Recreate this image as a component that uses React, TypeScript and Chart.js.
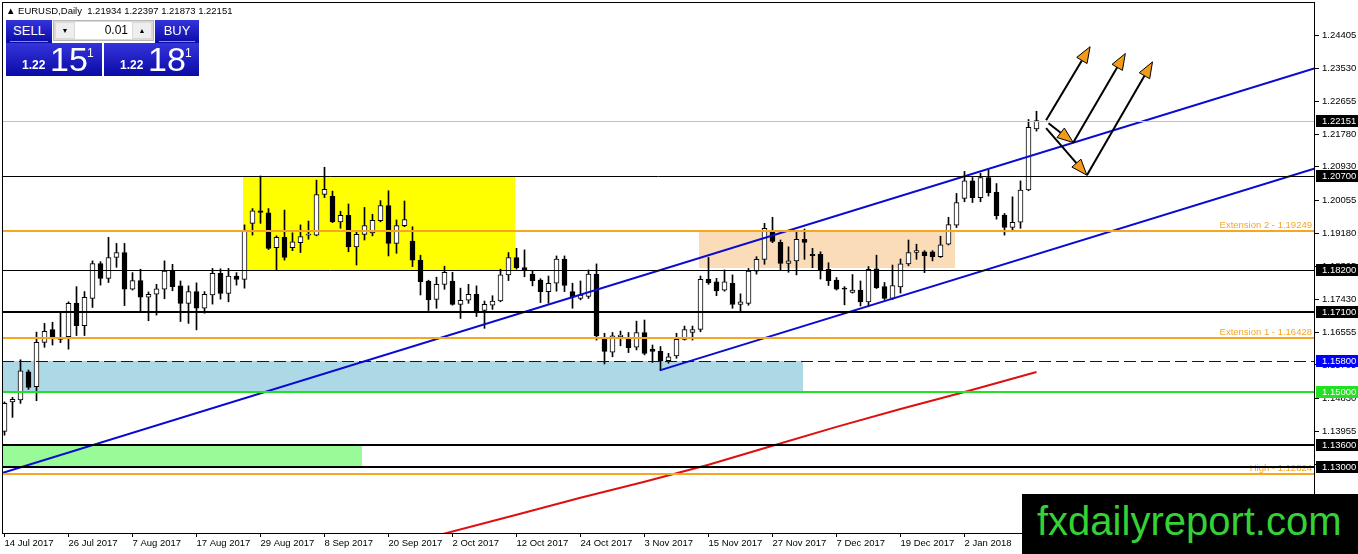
import { useEffect, useRef } from 'react'
import { Chart, registerables } from 'chart.js'
import type { Plugin } from 'chart.js'

Chart.register(...registerables)

// EURUSD daily, 14 Jul 2017 (bar 0) .. 15 Jan 2018 (bar 129)
const opens = [
  1.1395, 1.1473, 1.1478, 1.1552, 1.1513, 1.1630, 1.1664, 1.1641, 1.1645, 1.1733,
  1.1674, 1.1746, 1.1838, 1.1799, 1.1854, 1.1867, 1.1770, 1.1793, 1.1749, 1.1757,
  1.1770, 1.1818, 1.1779, 1.1733, 1.1764, 1.1720, 1.1755, 1.1812, 1.1759, 1.1805,
  1.1796, 1.1944, 1.1977, 1.1972, 1.1880, 1.1907, 1.1880, 1.1893, 1.1913, 1.1913,
  1.2020, 1.2016, 1.1948, 1.1965, 1.1882, 1.1915, 1.1919, 1.1951, 1.1991, 1.1891,
  1.1938, 1.1897, 1.1847, 1.1792, 1.1743, 1.1783, 1.1792, 1.1730, 1.1741, 1.1757,
  1.1714, 1.1728, 1.1739, 1.1808, 1.1854, 1.1827, 1.1810, 1.1794, 1.1764, 1.1786,
  1.1850, 1.1764, 1.1746, 1.1751, 1.1810, 1.1642, 1.1604, 1.1645, 1.1642, 1.1617,
  1.1656, 1.1612, 1.1606, 1.1582, 1.1594, 1.1638, 1.1656, 1.1664, 1.1796, 1.1790,
  1.1768, 1.1786, 1.1730, 1.1733, 1.1818, 1.1849, 1.1924, 1.1894, 1.1838, 1.1845,
  1.1902, 1.1862, 1.1862, 1.1823, 1.1794, 1.1773, 1.1762, 1.1768, 1.1737, 1.1824,
  1.1777, 1.1746, 1.1776, 1.1837, 1.1867, 1.1869, 1.1869, 1.1856, 1.1889, 1.1939,
  1.2010, 1.2056, 1.2012, 1.2065, 1.2026, 1.1966, 1.1933, 1.1947, 1.2032, 1.21934,
]
const highs = [
  1.1473, 1.1485, 1.1584, 1.1557, 1.1657, 1.1680, 1.1683, 1.1710, 1.1737, 1.1777,
  1.1764, 1.1845, 1.1843, 1.1907, 1.1891, 1.1891, 1.1814, 1.1823, 1.1763, 1.1783,
  1.1845, 1.1836, 1.1792, 1.1779, 1.1787, 1.1764, 1.1825, 1.1824, 1.1825, 1.1814,
  1.1940, 1.1983, 1.2069, 1.1983, 1.1911, 1.1979, 1.1919, 1.1940, 1.1950, 1.2058,
  1.2092, 1.2029, 1.1976, 1.1995, 1.1922, 1.1986, 1.1968, 1.2004, 1.2030, 1.1953,
  1.2003, 1.1935, 1.1860, 1.1794, 1.1802, 1.1831, 1.1815, 1.1773, 1.1783, 1.1779,
  1.1739, 1.1753, 1.1823, 1.1867, 1.1878, 1.1874, 1.1819, 1.1798, 1.1805, 1.1858,
  1.1858, 1.1786, 1.1792, 1.1821, 1.1837, 1.1654, 1.1656, 1.1660, 1.1656, 1.1686,
  1.1689, 1.1623, 1.1619, 1.1601, 1.1654, 1.1673, 1.1673, 1.1805, 1.1854, 1.1799,
  1.1821, 1.1808, 1.1758, 1.1825, 1.1856, 1.1944, 1.1960, 1.1900, 1.1882, 1.1924,
  1.1929, 1.1878, 1.1869, 1.1840, 1.1801, 1.1777, 1.1809, 1.1792, 1.1830, 1.1860,
  1.1788, 1.1834, 1.1850, 1.1900, 1.1889, 1.1872, 1.1872, 1.1910, 1.1960, 1.2023,
  1.2081, 1.2065, 1.2076, 1.2085, 1.2049, 1.1970, 1.2014, 1.2056, 1.2218, 1.22397,
]
const lows = [
  1.1385, 1.1432, 1.1469, 1.1506, 1.1476, 1.1617, 1.1623, 1.1629, 1.1612, 1.1648,
  1.1648, 1.1722, 1.1781, 1.1788, 1.1828, 1.1727, 1.1768, 1.1711, 1.1687, 1.1702,
  1.1745, 1.1766, 1.1685, 1.1680, 1.1663, 1.1707, 1.1731, 1.1744, 1.1737, 1.1781,
  1.1773, 1.1913, 1.1944, 1.1875, 1.1821, 1.1847, 1.1872, 1.1867, 1.1902, 1.1911,
  1.2012, 1.1946, 1.1931, 1.1869, 1.1834, 1.1900, 1.1911, 1.1948, 1.1858, 1.1865,
  1.1935, 1.1830, 1.1755, 1.1714, 1.1720, 1.1770, 1.1728, 1.1693, 1.1733, 1.1698,
  1.1667, 1.1717, 1.1737, 1.1793, 1.1823, 1.1803, 1.1779, 1.1735, 1.1733, 1.1765,
  1.1764, 1.1720, 1.1742, 1.1746, 1.1636, 1.1573, 1.1592, 1.1621, 1.1603, 1.1610,
  1.1597, 1.1577, 1.1557, 1.1575, 1.1588, 1.1636, 1.1636, 1.1658, 1.1783, 1.1753,
  1.1765, 1.1720, 1.1711, 1.1728, 1.1810, 1.1836, 1.1893, 1.1821, 1.1815, 1.1808,
  1.1849, 1.1827, 1.1797, 1.1780, 1.1768, 1.1729, 1.1760, 1.1726, 1.1724, 1.1772,
  1.1743, 1.1743, 1.1760, 1.1832, 1.1849, 1.1814, 1.1845, 1.1854, 1.1887, 1.1933,
  1.2001, 1.1999, 1.2001, 1.2016, 1.1955, 1.1913, 1.1922, 1.1931, 1.2030, 1.21873,
]
const closes = [
  1.1469, 1.1480, 1.1555, 1.1511, 1.1630, 1.1659, 1.1641, 1.1638, 1.1733, 1.1674,
  1.1749, 1.1838, 1.1799, 1.1854, 1.1867, 1.1770, 1.1793, 1.1749, 1.1757, 1.1771,
  1.1818, 1.1777, 1.1733, 1.1764, 1.1720, 1.1757, 1.1812, 1.1759, 1.1805, 1.1796,
  1.1924, 1.1977, 1.1973, 1.1878, 1.1907, 1.1854, 1.1895, 1.1909, 1.1916, 1.2020,
  1.2034, 1.1948, 1.1965, 1.1882, 1.1915, 1.1938, 1.1952, 1.1991, 1.1891, 1.1938,
  1.1954, 1.1847, 1.1790, 1.1742, 1.1783, 1.1815, 1.1730, 1.1741, 1.1757, 1.1711,
  1.1730, 1.1739, 1.1808, 1.1854, 1.1827, 1.1821, 1.1793, 1.1764, 1.1786, 1.1850,
  1.1780, 1.1749, 1.1755, 1.1810, 1.1647, 1.1606, 1.1647, 1.1649, 1.1616, 1.1656,
  1.1601, 1.1606, 1.1581, 1.1592, 1.1638, 1.1664, 1.1664, 1.1796, 1.1787, 1.1766,
  1.1790, 1.1730, 1.1737, 1.1818, 1.1849, 1.1931, 1.1896, 1.1838, 1.1845, 1.1902,
  1.1894, 1.1859, 1.1821, 1.1793, 1.1770, 1.1770, 1.1768, 1.1737, 1.1823, 1.1774,
  1.1746, 1.1780, 1.1837, 1.1867, 1.1872, 1.1859, 1.1856, 1.1887, 1.1941, 1.1999,
  1.2056, 1.2012, 1.2065, 1.2025, 1.1964, 1.1933, 1.1947, 1.2032, 1.2197, 1.22151,
]

const dateTickBars = [0, 8, 16, 24, 32, 40, 48, 56, 64, 72, 80, 88, 96, 104, 112, 120]
const dateLabels = [
  '14 Jul 2017', '26 Jul 2017', '7 Aug 2017', '17 Aug 2017', '29 Aug 2017', '8 Sep 2017',
  '20 Sep 2017', '2 Oct 2017', '12 Oct 2017', '24 Oct 2017', '3 Nov 2017', '15 Nov 2017',
  '27 Nov 2017', '7 Dec 2017', '19 Dec 2017', '2 Jan 2018',
]
const priceTicks = [
  1.24405, 1.2353, 1.22655, 1.2178, 1.2093, 1.20055, 1.1918, 1.18305,
  1.1743, 1.16555, 1.15705, 1.1483, 1.13955, 1.1308, 1.12205,
]

// moving average
const maBars = [54, 64, 72, 80, 88, 96, 104, 112, 120, 129]
const maValues = [1.1120, 1.1175, 1.1220, 1.1262, 1.1307, 1.1357, 1.1407, 1.1454, 1.1499, 1.1552]

// channel lines: [bar, price] end points
const channelUpper = [[-0.3, 1.12855], [163.8, 1.2353]]
const channelLower = [[81.9, 1.1556], [163.8, 1.2089]]

const bidPrice = 1.22151
const thinLevels = [1.207, 1.182]
const thickLevels = [1.171, 1.136, 1.13]
const dashedLevel = 1.158
const greenLevel = 1.15
const fibLevels = [1.19249, 1.16428, 1.12824]
const fibNames = ['Extension 2 - 1.19249', 'Extension 1 - 1.16428', 'High - 1.12824']

// zones: [fromBar, toBar, top, bottom]
const yellowZone = [29.8, 63.8, 1.207, 1.182]
const peachZone = [86.8, 118.8, 1.1925, 1.1825]
const blueZone = [-1, 99.8, 1.158, 1.15]
const greenZone = [-1, 44.7, 1.136, 1.13]

// arrows: [fromBar, fromPrice, toBar, toPrice]
const arrowSegments = [
  [130.2, 1.2216, 135.7, 1.2410],
  [130.5, 1.2208, 133.6, 1.2157],
  [133.6, 1.2157, 140.1, 1.2392],
  [130.2, 1.2195, 135.3, 1.2071],
  [135.3, 1.2071, 143.5, 1.2370],
]

const FONT = '"Liberation Sans", Arial, sans-serif'

const annotations: Plugin<'bar'> = {
  id: 'annotations',
  beforeDatasetsDraw(chart) {
    const { ctx, chartArea: a, scales } = chart
    const x = scales.x
    const y = scales.y
    ctx.save()
    ctx.beginPath()
    ctx.rect(a.left, a.top, a.width, a.height)
    ctx.clip()
    const zone = (z: number[], color: string) => {
      const x0 = Math.round(x.getPixelForValue(z[0]))
      const x1 = Math.round(x.getPixelForValue(z[1]))
      const y0 = Math.round(y.getPixelForValue(z[2]))
      const y1 = Math.round(y.getPixelForValue(z[3]))
      ctx.fillStyle = color
      ctx.fillRect(x0, y0, x1 - x0, y1 - y0)
    }
    zone(greenZone, '#98fb98')
    zone(blueZone, '#add8e6')
    zone(yellowZone, '#ffff00')
    zone(peachZone, '#fbdcb8')
    ctx.restore()
  },
  afterDatasetsDraw(chart) {
    const { ctx, chartArea: a, scales } = chart
    const x = scales.x
    const y = scales.y
    ctx.save()
    ctx.beginPath()
    ctx.rect(a.left, a.top, a.width, a.height)
    ctx.clip()
    const hline = (v: number, color: string, width: number, dash: number[] = []) => {
      const raw = Math.round(y.getPixelForValue(v))
      const py = width % 2 ? raw + 0.5 : raw
      ctx.strokeStyle = color
      ctx.lineWidth = width
      ctx.setLineDash(dash)
      ctx.beginPath()
      ctx.moveTo(a.left, py)
      ctx.lineTo(a.right, py)
      ctx.stroke()
      return raw
    }
    hline(bidPrice, '#c0c0c0', 1)
    ctx.font = `9.5px ${FONT}`
    ctx.textAlign = 'right'
    ctx.textBaseline = 'bottom'
    fibLevels.forEach((v, i) => {
      const py = hline(v, '#f5a623', 2)
      ctx.fillStyle = '#f5a623'
      ctx.fillText(fibNames[i], a.right - 3, py - 1)
    })
    thinLevels.forEach(v => hline(v, '#000000', 1))
    thickLevels.forEach(v => hline(v, '#000000', 2))
    hline(dashedLevel, '#0000c8', 1, [12, 5])
    hline(greenLevel, '#22e022', 2)
    ctx.setLineDash([])

    arrowSegments.forEach(([b0, p0, b1, p1]) => {
      const x0 = x.getPixelForValue(b0)
      const y0 = y.getPixelForValue(p0)
      const x1 = x.getPixelForValue(b1)
      const y1 = y.getPixelForValue(p1)
      const ang = Math.atan2(y1 - y0, x1 - x0)
      const cos = Math.cos(ang)
      const sin = Math.sin(ang)
      const len = 16
      const half = 6
      const bx = x1 - len * cos
      const by = y1 - len * sin
      ctx.strokeStyle = '#000000'
      ctx.lineWidth = 2
      ctx.beginPath()
      ctx.moveTo(x0, y0)
      ctx.lineTo(bx, by)
      ctx.stroke()
      ctx.beginPath()
      ctx.moveTo(x1, y1)
      ctx.lineTo(bx + half * sin, by - half * cos)
      ctx.lineTo(bx - half * sin, by + half * cos)
      ctx.closePath()
      ctx.fillStyle = '#f29a1c'
      ctx.fill()
      ctx.lineWidth = 1
      ctx.stroke()
    })
    ctx.restore()
  },
  afterDraw(chart) {
    const { ctx, chartArea: a, scales } = chart
    const y = scales.y
    ctx.save()
    ctx.strokeStyle = '#000000'
    ctx.lineWidth = 1
    ctx.strokeRect(a.left + 0.5, a.top + 0.5, a.width - 1, a.height)
    const tag = (v: number, bg: string) => {
      const py = Math.round(y.getPixelForValue(v))
      ctx.fillStyle = bg
      ctx.fillRect(a.right + 1, py - 6, chart.width - a.right - 1, 12)
      ctx.fillStyle = '#ffffff'
      ctx.font = `9.5px ${FONT}`
      ctx.textAlign = 'left'
      ctx.textBaseline = 'middle'
      ctx.fillText(v.toFixed(5), a.right + 7, py + 0.5)
    }
    tag(bidPrice, '#000000')
    thinLevels.forEach(v => tag(v, '#000000'))
    thickLevels.forEach(v => tag(v, '#000000'))
    tag(dashedLevel, '#0000ff')
    tag(greenLevel, '#22e022')
    ctx.restore()
  },
}

const blueGrad = 'linear-gradient(#3434dc, #0a0aa6)'

function TradePanel() {
  const base = { position: 'absolute' as const, color: '#ffffff', fontFamily: FONT }
  return (
    <>
      <div style={{ ...base, left: 6, top: 20, width: 46, height: 23, background: blueGrad, textAlign: 'center', fontSize: 13, lineHeight: '21px' }}>
        SELL
        <div style={{ position: 'absolute', left: 4, right: 4, bottom: 1, height: 1, background: '#8c8cf0' }} />
      </div>
      <div style={{ position: 'absolute', left: 53, top: 20, width: 101, height: 21, background: '#d9d9d9', border: '1px solid #b8b8b8', boxSizing: 'border-box' }}>
        <div style={{ position: 'absolute', left: 2, top: 2, width: 18, height: 15, background: '#eeeeee', fontSize: 7, textAlign: 'center', lineHeight: '15px', fontFamily: FONT }}>▼</div>
        <div style={{ position: 'absolute', left: 21, top: 1, width: 57, height: 17, background: '#ffffff', fontSize: 12, textAlign: 'right', lineHeight: '17px', paddingRight: 4, boxSizing: 'border-box', fontFamily: FONT }}>0.01</div>
        <div style={{ position: 'absolute', left: 79, top: 2, width: 18, height: 15, background: '#eeeeee', fontSize: 7, textAlign: 'center', lineHeight: '15px', fontFamily: FONT }}>▲</div>
      </div>
      <div style={{ ...base, left: 155, top: 20, width: 44, height: 23, background: blueGrad, textAlign: 'center', fontSize: 13, lineHeight: '21px' }}>
        BUY
        <div style={{ position: 'absolute', left: 4, right: 4, bottom: 1, height: 1, background: '#8c8cf0' }} />
      </div>
      {[{ left: 6, width: 96, big: '15' }, { left: 104, width: 95, big: '18' }].map(p => (
        <div key={p.big} style={{ ...base, left: p.left, top: 43, width: p.width, height: 33, background: blueGrad }}>
          <span style={{ position: 'absolute', left: 16, top: 15, fontSize: 12, fontWeight: 'bold' }}>1.22</span>
          <span style={{ position: 'absolute', left: 44, top: -3, fontSize: 34 }}>{p.big}</span>
          <span style={{ position: 'absolute', left: 81, top: 3, fontSize: 12 }}>1</span>
        </div>
      ))}
    </>
  )
}

export default function App() {
  const canvasRef = useRef<HTMLCanvasElement>(null)
  const chartRef = useRef<Chart | null>(null)

  useEffect(() => {
    if (!canvasRef.current) return
    chartRef.current?.destroy()

    const bars = opens.map((_, i) => i)

    chartRef.current = new Chart(canvasRef.current, {
      type: 'bar',
      data: {
        datasets: [
          {
            label: 'Bodies',
            data: bars.map(i => ({ x: i, y: [Math.min(opens[i], closes[i]), Math.max(opens[i], closes[i])] })) as any,
            backgroundColor: bars.map(i => (closes[i] >= opens[i] ? '#ffffff' : '#000000')),
            borderColor: '#000000',
            borderWidth: 1,
            borderSkipped: false,
            barThickness: 5,
            minBarLength: 1,
            grouped: false,
            order: 1,
          },
          {
            label: 'Wicks',
            data: bars.map(i => ({ x: i, y: [lows[i], highs[i]] })) as any,
            backgroundColor: '#000000',
            barThickness: 1,
            grouped: false,
            order: 2,
          },
          {
            type: 'line',
            label: 'MA',
            data: maBars.map((b, i) => ({ x: b, y: maValues[i] })),
            borderColor: '#dd1010',
            borderWidth: 2,
            pointRadius: 0,
            order: 0,
          } as any,
          {
            type: 'line',
            label: 'Channel upper',
            data: channelUpper.map(([b, p]) => ({ x: b, y: p })),
            borderColor: '#0a0ad0',
            borderWidth: 2,
            pointRadius: 0,
            order: 0,
          } as any,
          {
            type: 'line',
            label: 'Channel lower',
            data: channelLower.map(([b, p]) => ({ x: b, y: p })),
            borderColor: '#0a0ad0',
            borderWidth: 2,
            pointRadius: 0,
            order: 0,
          } as any,
        ],
      },
      options: {
        animation: false,
        responsive: true,
        maintainAspectRatio: false,
        layout: { padding: { left: 2, top: 2, right: 0, bottom: 0 } },
        plugins: { legend: { display: false }, tooltip: { enabled: false } },
        scales: {
          x: {
            type: 'linear',
            min: -0.3125,
            max: 163.8125,
            offset: false,
            grid: { drawOnChartArea: false, drawTicks: true, tickLength: 4, color: '#000000', offset: false },
            border: { display: false },
            afterBuildTicks: scale => { scale.ticks = dateTickBars.map(v => ({ value: v })) },
            afterFit: scale => {
              scale.height = 21
              scale.paddingLeft = 0
              scale.paddingRight = 0
            },
            ticks: {
              autoSkip: false,
              maxRotation: 0,
              align: 'start',
              padding: 1,
              color: '#000000',
              font: { family: FONT, size: 9.5 },
              callback: (_v, i) => dateLabels[i] ?? '',
            },
          },
          y: {
            type: 'linear',
            position: 'right',
            min: 1.1127,
            max: 1.2528,
            beginAtZero: false,
            grid: { drawOnChartArea: false, drawTicks: true, tickLength: 4, color: '#000000' },
            border: { display: false },
            afterBuildTicks: scale => { scale.ticks = priceTicks.map(v => ({ value: v })) },
            afterFit: scale => {
              scale.width = 43
              scale.paddingTop = 0
              scale.paddingBottom = 0
            },
            ticks: {
              padding: 3,
              color: '#000000',
              font: { family: FONT, size: 9.5 },
              callback: v => Number(v).toFixed(5),
            },
          },
        },
      },
      plugins: [annotations],
    })

    return () => chartRef.current?.destroy()
  }, [])

  return (
    <div style={{ position: 'absolute', left: 0, top: 0, width: 1358, height: 554, background: '#ffffff', overflow: 'hidden' }}>
      <canvas ref={canvasRef} />
      <div style={{ position: 'absolute', left: 6, top: 5, fontFamily: FONT, fontSize: 9.5, color: '#000000', whiteSpace: 'pre' }}>
        {'▲ EURUSD,Daily  1.21934 1.22397 1.21873 1.22151'}
      </div>
      <TradePanel />
      <div style={{ position: 'absolute', left: 1022, top: 494, width: 336, height: 60, background: '#000000', color: '#35d135', fontFamily: FONT, fontSize: 40, lineHeight: '54px', paddingLeft: 15, boxSizing: 'border-box' }}>
        fxdailyreport.com
      </div>
    </div>
  )
}
